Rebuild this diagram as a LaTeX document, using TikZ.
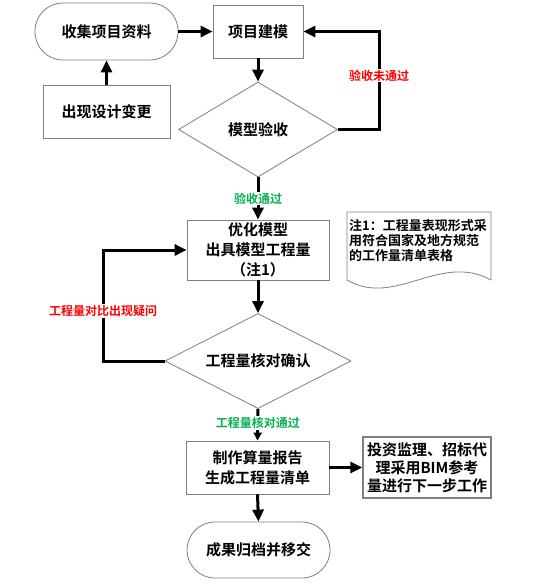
\documentclass[tikz,border=0pt]{standalone}
\usepackage{fontspec}
\setmainfont{Noto Sans CJK SC}[BoldFont={Noto Sans CJK SC Bold}]
\usetikzlibrary{shapes.geometric,arrows.meta}
\definecolor{bordergray}{HTML}{7F7F7F}
\definecolor{okgreen}{HTML}{00B050}
\definecolor{badred}{HTML}{FF0000}
\tikzset{
  base/.style={draw=bordergray, line width=0.8pt, fill=white, inner sep=0pt, align=center,
    font=\fontsize{15}{20}\selectfont\bfseries},
  boxnode/.style={base, rectangle},
  termnode/.style={base, rectangle, rounded corners=28pt},
  decnode/.style={base, diamond, aspect=1.7},
  arr/.style={line width=3pt, -{Triangle[length=12pt,width=11pt]}},
  smallarr/.style={line width=3pt, -{Triangle[length=8pt,width=8pt]}},
  lbl/.style={fill=white, inner sep=1pt, font=\fontsize{12}{14}\selectfont\bfseries},
}
\begin{document}
\begin{tikzpicture}[x=1pt,y=-1pt]
\useasboundingbox (0,0) rectangle (554,586);
% nodes
\node[termnode, minimum width=143pt, minimum height=57pt] (collect) at (106.5,31.5) {收集项目资料};
\node[boxnode, minimum width=127pt, minimum height=53pt] (change) at (106.5,111.5) {出现设计变更};
\node[boxnode, minimum width=90pt, minimum height=53pt] (model) at (258,31.5) {项目建模};
\node[decnode, minimum width=159pt, minimum height=95pt] (check1) at (258,129.5) {模型验收};
\node[boxnode, minimum width=142pt, minimum height=60pt] (opt) at (258,250) {优化模型\\出具模型工程量\\（注1）};
\node[decnode, minimum width=186pt, minimum height=95pt] (check2) at (258,361) {工程量核对确认};
\node[boxnode, minimum width=143pt, minimum height=53pt] (report) at (257.5,467.5) {制作算量报告\\生成工程量清单};
\node[boxnode, line width=1.4pt, minimum width=128pt, minimum height=61pt, font=\fontsize{15}{18}\selectfont\bfseries] (invest) at (427,467.5) {投资监理、招标代\\理采用BIM参考\\量进行下一步工作};
\node[termnode, minimum width=143pt, minimum height=56pt] (final) at (258.5,550) {成果归档并移交};
% note (document shape)
\draw[draw=bordergray, line width=0.8pt, fill=white] (347,212) -- (491,212) -- (491,280)
  .. controls (440,252) and (395,308) .. (347,280) -- cycle;
\node[anchor=north west, align=left, inner sep=0pt, font=\fontsize{13}{15}\selectfont\bfseries] (note) at (349,219)
  {注1：工程量表现形式采\\用符合国家及地方规范\\的工作量清单表格};
% connectors
\coordinate (loop1) at (379,129.5);
\coordinate (loop2) at (103,361);
\draw[arr] (collect.east) -- (model.west);
\draw[arr] (change.north) -- (collect.south);
\draw[arr] (model.south) -- (check1.north);
\draw[arr] (check1.east) -- (loop1) -- node[lbl, text=badred, pos=0.55] {验收未通过} (loop1 |- model.east) -- (model.east);
\draw[arr] (check1.south) -- node[lbl, text=okgreen, pos=0.5] {验收通过} (opt.north);
\draw[arr] (opt.south) -- (check2.north);
\draw[arr] (check2.west) -- (loop2) -- node[lbl, text=badred, pos=0.45] {工程量对比出现疑问} (loop2 |- opt.west) -- (opt.west);
\draw[smallarr] (check2.south) -- node[lbl, text=okgreen, pos=0.45] {工程量核对通过} (report.north);
\draw[arr] (report.east) -- (invest.west);
\draw[arr] (report.south) -- (final.north);
\end{tikzpicture}
\end{document}
